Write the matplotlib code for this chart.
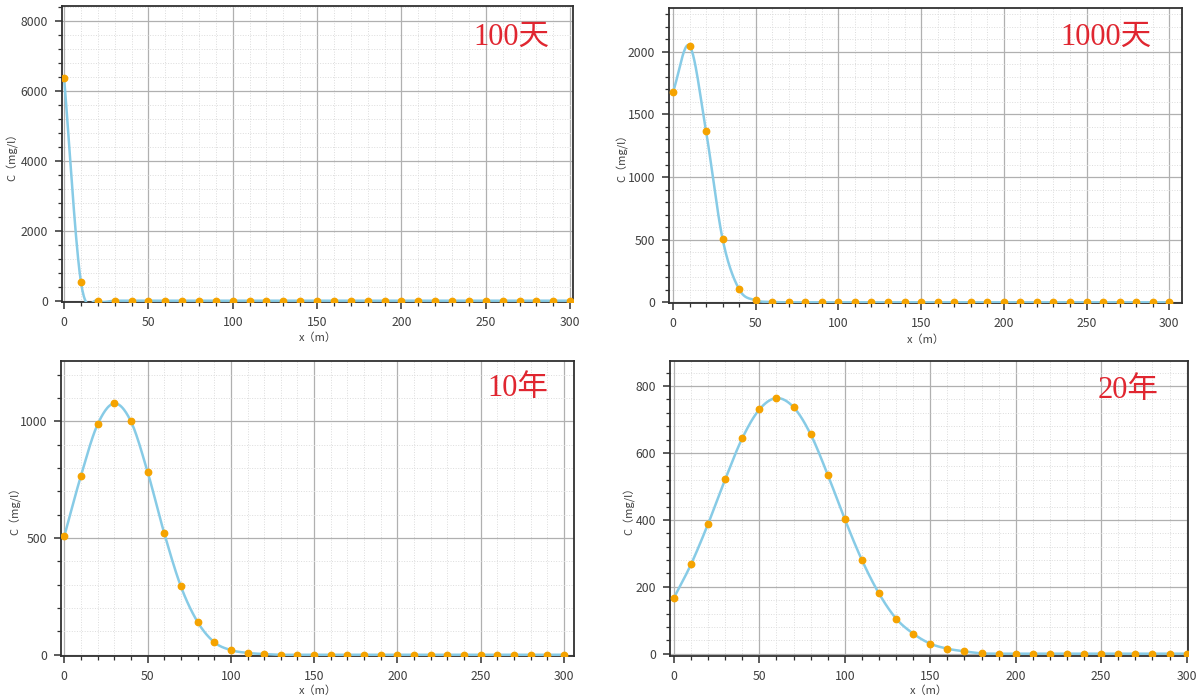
import numpy as np
import matplotlib
matplotlib.use('Agg')
import matplotlib.pyplot as plt
from matplotlib.ticker import MultipleLocator

plt.rcParams['font.family'] = ['Noto Sans CJK SC', 'DejaVu Sans']

# distance along the flow path (m)
x = list(range(0, 301, 10))

# concentration C (mg/l)
c_100d = [6380, 535] + [0] * 29
c_1000d = [1678, 2048, 1365, 505, 104, 16, 3] + [0] * 24
c_10y = [508, 767, 987, 1077, 1000, 784, 521, 293, 141, 54, 20, 8, 3] + [0] * 18
c_20y = [167, 267, 388, 521, 644, 730, 764, 737, 656, 535, 402, 280, 180,
         105, 60, 30, 15, 7, 1] + [0] * 12

titles = ['100天', '1000天', '10年', '20年']
series = [c_100d, c_1000d, c_10y, c_20y]

# panel layout (figure fractions), axis limits and y tick steps
rects = [[0.0517, 0.5686, 0.4258, 0.4229],
         [0.5575, 0.5667, 0.4275, 0.4219],
         [0.0508, 0.0633, 0.4275, 0.4214],
         [0.5583, 0.0633, 0.4317, 0.4210]]
xlims = [(-1.2, 301.7), (-2.4, 307.7), (-2.0, 306.0), (-2.3, 300.8)]
ylims = [(-37, 8430), (-8, 2350), (-4, 1260), (-6, 875)]
ysteps = [2000, 500, 500, 200]
title_pos = [(511, 37), (1106, 37), (518, 388), (1128, 390)]
ylabel_pos = [-0.086, -0.080, -0.078, -0.066]
xlabel_pos = [-0.101, -0.104, -0.100, -0.100]


def smooth_line(xv, yv, n=24):
    # catmull-rom curve through the points, only used for drawing the line
    xv = np.asarray(xv, float)
    yv = np.asarray(yv, float)
    xs, ys = [], []
    t = np.linspace(0, 1, n, endpoint=False)
    for i in range(len(xv) - 1):
        p1, p2 = yv[i], yv[i + 1]
        p0 = yv[i - 1] if i > 0 else 2 * p1 - p2
        p3 = yv[i + 2] if i + 2 < len(yv) else 2 * p2 - p1
        yy = 0.5 * (2 * p1 + (-p0 + p2) * t + (2 * p0 - 5 * p1 + 4 * p2 - p3) * t ** 2
                    + (-p0 + 3 * p1 - 3 * p2 + p3) * t ** 3)
        xs.append(xv[i] + (xv[i + 1] - xv[i]) * t)
        ys.append(yy)
    xs.append([xv[-1]])
    ys.append([yv[-1]])
    return np.concatenate(xs), np.concatenate(ys)


fig = plt.figure(figsize=(12, 7), dpi=100)

for i in range(4):
    ax = fig.add_axes(rects[i])
    sx, sy = smooth_line(x, series[i])
    ax.plot(sx, sy, color='#87cbe6', lw=1.8, zorder=3)
    ax.plot(x, series[i], 'o', color='#f5a300', ms=4.6, mec='#f5a300', zorder=4)

    ax.set_xlim(*xlims[i])
    ax.set_ylim(*ylims[i])
    ax.xaxis.set_major_locator(MultipleLocator(50))
    ax.xaxis.set_minor_locator(MultipleLocator(10))
    ax.yaxis.set_major_locator(MultipleLocator(ysteps[i]))
    ax.yaxis.set_minor_locator(MultipleLocator(ysteps[i] / 5))

    ax.grid(which='major', color='#b0b0b0', lw=0.9, zorder=1)
    ax.grid(which='minor', color='#dcdcdc', lw=0.7, ls=':', zorder=1)
    ax.set_axisbelow(True)

    for side in ax.spines.values():
        side.set_color('#303030')
        side.set_linewidth(1.3)
    ax.tick_params(which='major', direction='out', length=5, width=1.1,
                   color='#303030', labelsize=8.8, labelcolor='#404040')
    ax.tick_params(which='minor', direction='out', length=3, width=0.9, color='#303030')
    ax.tick_params(axis='x', which='major', pad=5)
    ax.tick_params(axis='y', which='major', pad=5)

    ax.set_xlabel('x（m）', fontsize=8, color='#404040')
    ax.set_ylabel('C（mg/l）', fontsize=8, color='#404040')
    ax.xaxis.set_label_coords(0.5, xlabel_pos[i])
    ax.yaxis.set_label_coords(ylabel_pos[i], 0.5)

    tx, ty = title_pos[i]
    fig.text(tx / 1200, 1 - ty / 700, titles[i], ha='center', va='center',
             fontsize=22, color='#e02630',
             family=['Liberation Serif', 'Noto Sans CJK SC'])

fig.savefig('out.png', dpi=100)
